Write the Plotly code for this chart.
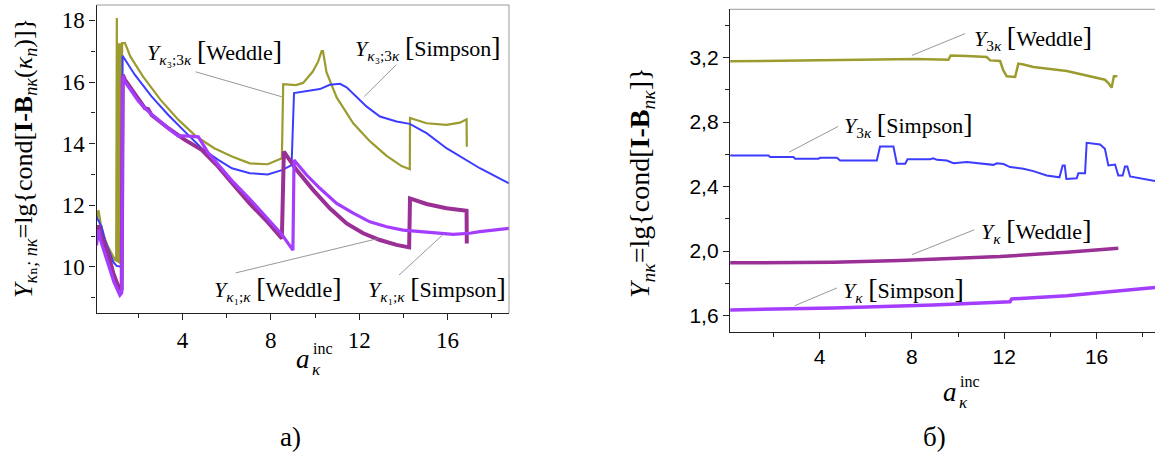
import plotly.graph_objects as go

# ---------------- DATA: panel a) ----------------
w3_x = [0.11, 0.2, 0.3, 0.45, 0.6, 0.8, 0.95, 1.0, 1.01, 1.03, 1.05, 1.07, 1.09, 1.11, 1.13, 1.15, 1.17, 1.19,
        1.21, 1.23, 1.25, 1.27, 1.4, 1.64, 2.21, 3.01, 3.82, 4.63, 5.44, 6.24, 7.05, 7.86, 8.5, 8.56, 9.14,
        9.46, 9.9, 10.14, 10.3, 10.36, 10.52, 10.98, 11.73, 12.48, 13.24, 13.92, 14.29, 14.3, 15.05, 15.95,
        16.56, 16.86, 16.87]
w3_y = [11.5, 11.84, 11.4, 11.0, 10.7, 10.4, 10.22, 10.2, 18.08, 18.08, 10.2, 17.26, 10.15, 17.26, 10.12, 17.26,
        10.1, 17.26, 10.1, 17.26, 10.1, 17.26, 17.26, 16.83, 16.18, 15.42, 14.77, 14.23, 13.85, 13.58, 13.36,
        13.33, 13.52, 15.93, 15.9, 15.97, 16.34, 16.66, 17.0, 17.0, 16.32, 15.5, 14.66, 14.08, 13.6, 13.27,
        13.17, 14.83, 14.66, 14.61, 14.68, 14.79, 13.9]

s3_x = [0.11, 0.34, 0.49, 0.72, 0.87, 1.02, 1.25, 1.29, 1.55, 1.85, 2.6, 3.36, 4.11, 4.87, 5.62, 6.24, 7.05,
        7.86, 8.5, 8.94, 9.05, 9.62, 10.22, 10.67, 11.13, 11.43, 11.88, 12.34, 12.94, 13.69, 14.29, 15.05,
        15.95, 16.71, 17.46, 18.78]
s3_y = [11.63, 11.3, 10.87, 10.44, 10.16, 10.03, 10.0, 16.85, 16.56, 16.23, 15.53, 14.93, 14.39, 13.85, 13.47,
        13.2, 13.04, 13.0, 13.14, 13.3, 15.64, 15.7, 15.77, 15.91, 15.94, 15.83, 15.53, 15.2, 14.88, 14.72,
        14.64, 14.34, 13.85, 13.52, 13.2, 12.71]

w1_x = [0.11, 0.2, 0.3, 0.45, 0.64, 0.87, 1.1, 1.25, 1.3, 1.4, 1.7, 2.0, 2.3, 2.45, 2.6, 3.36, 4.11, 4.87,
        5.62, 6.24, 7.05, 7.86, 8.5, 8.59, 9.17, 9.92, 10.67, 11.43, 12.18, 12.94, 13.69, 14.26, 14.3, 15.05,
        15.95, 16.86, 16.87]
w1_y = [10.95, 11.35, 11.05, 10.75, 10.44, 9.79, 9.35, 9.24, 16.23, 16.07, 15.75, 15.42, 15.15, 15.12, 14.93,
        14.5, 14.12, 13.8, 13.25, 12.72, 12.05, 11.45, 10.92, 13.74, 13.14, 12.49, 11.9, 11.41, 11.09, 10.87,
        10.71, 10.63, 12.22, 12.04, 11.9, 11.82, 10.76]

s1_x = [0.11, 0.2, 0.3, 0.5, 0.7, 0.9, 1.17, 1.25, 1.3, 1.4, 1.7, 2.0, 2.3, 2.6, 3.36, 3.8, 4.11, 4.72, 5.17,
        5.62, 6.24, 7.05, 7.86, 8.5, 9.0, 9.05, 9.62, 10.22, 10.98, 11.73, 12.48, 13.24, 13.99, 14.75, 15.5,
        16.25, 17.0, 17.46, 18.78]
s1_y = [10.7, 11.2, 10.85, 10.4, 10.0, 9.5, 9.08, 9.15, 16.2, 16.0, 15.7, 15.38, 15.15, 14.95, 14.5, 14.25,
        14.25, 14.22, 13.69, 13.3, 12.8, 12.2, 11.55, 11.05, 10.54, 13.47, 12.98, 12.55, 12.06, 11.74, 11.46,
        11.3, 11.19, 11.14, 11.09, 11.05, 11.09, 11.14, 11.25]

# ---------------- DATA: panel б) ----------------
w3r_x = [0.13, 3.16, 6.05, 8.21, 9.58, 9.68, 10.38, 11.24, 11.39, 11.82, 11.96, 12.11, 12.47, 12.61, 12.83,
         13.26, 14.71, 16.36, 16.51, 16.65, 16.75, 16.9]
w3r_y = [3.177, 3.183, 3.191, 3.191, 3.187, 3.214, 3.211, 3.204, 3.183, 3.179, 3.121, 3.084, 3.08, 3.163, 3.158,
         3.142, 3.117, 3.063, 3.042, 3.014, 3.084, 3.084]

s3r_x = [0.13, 1.79, 1.86, 2.87, 2.94, 3.95, 4.03, 4.75, 4.89, 6.48, 6.62, 7.2, 7.35, 7.71, 7.81, 8.79, 8.93,
         9.08, 9.51, 9.8, 10.38, 11.1, 11.53, 11.68, 11.97, 12.25, 12.83, 13.26, 13.84, 14.39, 14.53, 14.62,
         14.69, 15.14, 15.21, 15.5, 15.57, 16.15, 16.36, 16.51, 16.8, 16.94, 17.13, 17.23, 17.33, 17.45,
         17.88, 18.53]
s3r_y = [2.593, 2.593, 2.583, 2.583, 2.573, 2.573, 2.579, 2.579, 2.562, 2.562, 2.649, 2.649, 2.542, 2.542,
         2.570, 2.570, 2.576, 2.566, 2.562, 2.545, 2.552, 2.542, 2.535, 2.545, 2.540, 2.521, 2.511, 2.496,
         2.469, 2.458, 2.531, 2.531, 2.448, 2.452, 2.483, 2.483, 2.672, 2.661, 2.635, 2.531, 2.537, 2.469,
         2.469, 2.525, 2.525, 2.463, 2.452, 2.434]

w1r_x = [0.13, 4.6, 7.49, 11.82, 14.71, 16.94]
w1r_y = [1.927, 1.931, 1.941, 1.966, 1.993, 2.017]

s1r_x = [0.13, 4.6, 8.93, 12.25, 12.32, 14.71, 18.53]
s1r_y = [1.635, 1.647, 1.666, 1.686, 1.703, 1.723, 1.775]

# ---------------- tick labels ----------------
xa_vals = [4, 8, 12, 16]
xa_text = ["4", "8", "12", "16"]
ya_vals = [10, 12, 14, 16, 18]
ya_text = ["10", "12", "14", "16", "18"]
yb_vals = [1.6, 2.0, 2.4, 2.8, 3.2]
yb_text = ["1,6", "2,0", "2,4", "2,8", "3,2"]

OLIVE = "#9b9b2f"
BLUE = "#3c3cff"
DPURP = "#9a2f96"
VIOL = "#a53dff"
SERIF = "Liberation Serif, Times New Roman, Times, DejaVu Serif, serif"
SANS = "Liberation Sans, Arial, Helvetica, sans-serif"

W, H = 1155, 459


def px(x):
    return x / W


def py(y):
    return 1 - y / H


fig = go.Figure()
for xs, ys, c, w in [(w3_x, w3_y, OLIVE, 2.2), (s3_x, s3_y, BLUE, 2.0),
                     (w1_x, w1_y, DPURP, 4.0), (s1_x, s1_y, VIOL, 3.2)]:
    fig.add_trace(go.Scatter(x=xs, y=ys, mode="lines", line=dict(color=c, width=w),
                             xaxis="x", yaxis="y", showlegend=False, hoverinfo="skip"))
for xs, ys, c, w in [(w3r_x, w3r_y, OLIVE, 2.5), (s3r_x, s3r_y, BLUE, 2.0),
                     (w1r_x, w1r_y, DPURP, 3.5), (s1r_x, s1r_y, VIOL, 3.5)]:
    fig.add_trace(go.Scatter(x=xs, y=ys, mode="lines", line=dict(color=c, width=w),
                             xaxis="x2", yaxis="y2", showlegend=False, hoverinfo="skip"))

axcommon = dict(showline=True, linecolor="#222", linewidth=1.3, ticks="outside", ticklen=6,
                tickcolor="#222", showgrid=False, zeroline=False, mirror=False)

fig.update_layout(
    width=W, height=H, margin=dict(l=0, r=0, t=0, b=0),
    paper_bgcolor="white", plot_bgcolor="white",
    font=dict(family=SERIF, color="black"),
    xaxis=dict(domain=[px(96.5), px(509)], range=[0.11, 18.78], anchor="y",
               tickvals=xa_vals, ticktext=xa_text,
               tickfont=dict(family=SERIF, size=23, color="black"),
               minor=dict(ticks="outside", ticklen=4, dtick=2, tick0=0, tickcolor="#222"), **axcommon),
    yaxis=dict(domain=[py(313), py(5)], range=[8.5, 18.5], anchor="x",
               tickvals=ya_vals, ticktext=ya_text,
               tickfont=dict(family=SERIF, size=23, color="black"),
               minor=dict(ticks="outside", ticklen=4, dtick=1, tick0=0, tickcolor="#222"), **axcommon),
    xaxis2=dict(domain=[px(730), 1.0], range=[0.12, 18.53], anchor="y2",
                tickvals=xa_vals, ticktext=xa_text, ticklabelstandoff=0,
                tickfont=dict(family=SANS, size=21, color="black"),
                minor=dict(ticks="outside", ticklen=4, dtick=2, tick0=0, tickcolor="#222"), **axcommon),
    yaxis2=dict(domain=[py(331.7), py(9.3)], range=[1.5, 3.5], anchor="x2",
                tickvals=yb_vals, ticktext=yb_text,
                tickfont=dict(family=SANS, size=21, color="black"),
                minor=dict(ticks="outside", ticklen=4, dtick=0.2, tick0=0, tickcolor="#222"), **axcommon),
)

# frame edges (top/right) in grey
shapes = [
    dict(type="line", xref="x domain", yref="y domain", x0=0, x1=1, y0=1, y1=1, line=dict(color="#9a9a9a", width=1)),
    dict(type="line", xref="x domain", yref="y domain", x0=1, x1=1, y0=0, y1=1, line=dict(color="#9a9a9a", width=1)),
    dict(type="line", xref="x2 domain", yref="y2 domain", x0=0, x1=1, y0=1, y1=1, line=dict(color="#9a9a9a", width=1)),
]

BR = "<span style='font-size:28px'>[</span>"
BRC = "<span style='font-size:28px'>]</span>"


def lab(sub, meth):
    return f"<i>Y</i><sub>{sub}</sub> {BR}{meth}{BRC}"


sub31 = "<i>κ</i>₃;3<i>κ</i>"
sub11 = "<i>κ</i>₁;<i>κ</i>"

# label text, text position, leader start, leader end
labels_a = [
    (lab(sub31, "Weddle"), 5.45, 16.98, 4.6, 16.33, 8.5, 15.52),
    (lab(sub31, "Simpson"), 15.11, 17.11, 13.68, 16.56, 12.23, 15.53),
    (lab(sub11, "Weddle"), 8.33, 9.31, 6.4, 9.80, 12.87, 10.92),
    (lab(sub11, "Simpson"), 15.5, 9.31, 13.8, 9.73, 15.86, 11.09),
]
labels_b = [
    (lab("3<i>κ</i>", "Weddle"), 13.25, 3.326, 10.3, 3.349, 8.0, 3.214),
    (lab("3<i>κ</i>", "Simpson"), 7.84, 2.785, 4.8, 2.773, 2.68, 2.614),
    (lab("<i>κ</i>", "Weddle"), 13.38, 2.127, 10.7, 2.132, 8.0, 1.978),
    (lab("<i>κ</i>", "Simpson"), 7.62, 1.761, 4.75, 1.771, 2.92, 1.661),
]

annotations = []
for (txt, tx, ty, x0, y0, x1, y1), (xr, yr) in \
        [(l, ("x", "y")) for l in labels_a] + [(l, ("x2", "y2")) for l in labels_b]:
    annotations.append(dict(text=txt, x=tx, y=ty, xref=xr, yref=yr, showarrow=False,
                            font=dict(family=SERIF, size=22, color="black"),
                            xanchor="center", yanchor="middle"))
    shapes.append(dict(type="line", xref=xr, yref=yr, x0=x0, y0=y0, x1=x1, y1=y1,
                       line=dict(color="#8c8c8c", width=0.9)))

# axis titles
annotations += [
    dict(text="<i>Y</i><sub><i>κ</i>ₙ<i>; nκ</i></sub>=lg{cond[<b>I-B</b><sub><i>nκ</i></sub>(<i>κ</i><sub><i>n</i></sub>)]}",
         x=px(25), y=py(158), xref="paper", yref="paper", textangle=-90, showarrow=False,
         font=dict(family=SERIF, size=26, color="black"), xanchor="center", yanchor="middle"),
    dict(text="<i>Y</i><sub><i>nκ</i></sub>=lg{cond[<b>I-B</b><sub><i>nκ</i></sub>]}",
         x=px(641), y=py(183), xref="paper", yref="paper", textangle=-90, showarrow=False,
         font=dict(family=SERIF, size=28, color="black"), xanchor="center", yanchor="middle"),
]
# a_kappa^inc titles (stacked sub/sup)
for ax_, ay_ in [(303, 359), (950, 392)]:
    annotations += [
        dict(text="<i>a</i>", x=px(ax_), y=py(ay_), xref="paper", yref="paper", showarrow=False,
             font=dict(family=SERIF, size=27, color="black"), xanchor="center", yanchor="middle"),
        dict(text="inc", x=px(ax_ + 8), y=py(ay_ - 11), xref="paper", yref="paper", showarrow=False,
             font=dict(family=SERIF, size=16, color="black"), xanchor="left", yanchor="middle"),
        dict(text="<i>κ</i>", x=px(ax_ + 7), y=py(ay_ + 10), xref="paper", yref="paper", showarrow=False,
             font=dict(family=SERIF, size=17, color="black"), xanchor="left", yanchor="middle"),
    ]
# panel letters
annotations += [
    dict(text="а)", x=px(290), y=py(437), xref="paper", yref="paper", showarrow=False,
         font=dict(family=SERIF, size=27, color="black"), xanchor="center", yanchor="middle"),
    dict(text="б)", x=px(934), y=py(437), xref="paper", yref="paper", showarrow=False,
         font=dict(family=SERIF, size=27, color="black"), xanchor="center", yanchor="middle"),
]

fig.update_layout(shapes=shapes, annotations=annotations)
fig.write_html("out.html", config={"displayModeBar": False},
               post_script="document.body.style.margin='0px';")
